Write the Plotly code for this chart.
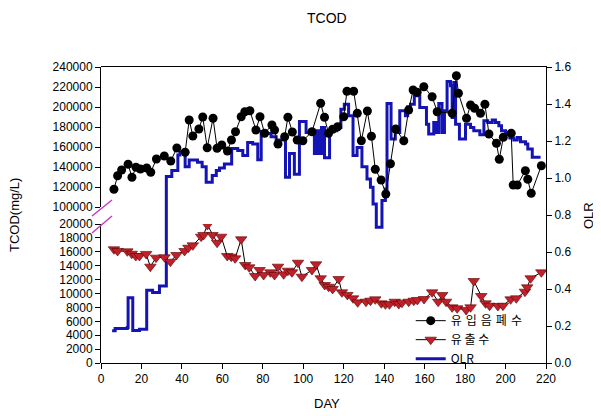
import plotly.graph_objects as go

# influent (top, left broken axis 100000-240000)
IN_DAY = [6.4, 8.2, 10.2, 13.4, 15.3, 17.3, 19.5, 22.6, 24.6, 27.4, 31.3, 34.5, 37.5,
          41.6, 43.6, 45.4, 48.4, 50.3, 52.5, 55.4, 57.4, 59.7, 62.5, 64.5, 66.5, 69.3,
          71.1, 73.6, 76.6, 78.6, 80.9, 84.5, 85.8, 87.5, 90.8, 92.4, 94.6, 97.0, 99.8,
          104.3, 108.6, 110.5, 112.5, 114.5, 117.0, 120.0, 121.6, 124.9, 126.7, 128.7,
          131.7, 133.7, 135.6, 138.5, 140.8, 143.1, 145.7, 149.7, 152.1, 154.3, 156.3,
          159.6, 163.7, 166.2, 173.6, 175.7, 176.7, 180.7, 182.7, 184.7, 187.6, 189.8,
          191.8, 195.5, 196.9, 198.9, 202.8, 203.8, 205.8, 209.8, 211.0, 212.7, 217.7]
IN_TCOD = [117700, 131300, 137000, 142700, 129700, 139700, 138000, 139000, 134700, 148000,
           151000, 146000, 159000, 154700, 187000, 171000, 178000, 190000, 159300, 188700,
           158700, 162000, 156000, 167000, 175300, 190300, 195300, 196300, 177000, 190300,
           173700, 182000, 177000, 163000, 170300, 189700, 175000, 167000, 166300, 175300,
           203700, 189700, 173700, 177700, 180300, 190300, 215700, 215700, 193700, 166300,
           196000, 170700, 137700, 127000, 113000, 143300, 178000, 166300, 197000, 217000,
           214700, 220300, 210300, 195300, 193700, 231300, 213700, 188700, 202000, 198700,
           193700, 202700, 173000, 163700, 147700, 169700, 173700, 122000, 122000, 136300,
           127700, 113700, 141300]

# effluent (bottom, left axis 0-20000)
EF_DAY = [6.4, 8.2, 13.0, 15.2, 17.2, 19.0, 22.3, 24.4, 27.2, 31.4, 34.3, 37.3, 41.3, 43.2,
          45.4, 49.5, 50.7, 52.6, 55.1, 57.4, 59.4, 62.4, 64.4, 66.3, 69.3, 71.3, 73.3,
          76.2, 78.4, 80.4, 83.7, 85.8, 87.5, 90.3, 92.4, 94.4, 97.4, 99.3, 104.3, 106.3,
          108.6, 110.6, 112.5, 114.5, 117.5, 119.1, 121.8, 124.6, 126.9, 131.0, 133.2,
          135.6, 138.6, 140.6, 142.6, 145.2, 147.2, 148.8, 152.1, 154.6, 156.4, 159.7,
          163.7, 166.7, 168.7, 170.6, 173.6, 176.1, 180.5, 182.7, 184.3, 188.0, 190.1,
          192.1, 196.2, 198.7, 202.5, 205.3, 209.6, 210.7, 212.4, 217.7]
EF_TCOD = [16360, 16120, 16070, 15730, 15400, 15400, 15690, 13860, 15160, 15210, 14580,
           15540, 16120, 16590, 16930, 18180, 18420, 19860, 18420, 17310, 18180, 15400,
           15300, 15060, 17800, 14100, 13770, 12520, 13380, 12660, 13050, 12660, 13860,
           12760, 13280, 13050, 14430, 12420, 13380, 14200, 12190, 11220, 10980, 10650,
           12090, 10170, 9790, 9310, 8730, 8820, 8970, 9160, 8590, 8440, 8440, 8820, 8490,
           8680, 8820, 8970, 9070, 9210, 10170, 8820, 9790, 8820, 8010, 7870, 7630, 8010,
           11800, 9640, 8590, 8250, 8200, 8250, 9160, 9310, 10260, 10890, 12190, 13050]

# OLR step levels (start day of each step)
OLR_DAY = [5.5, 7.0, 13.0, 13.4, 15.7, 19.0, 22.6, 25.5, 28.9, 32.3, 35.0, 38.0, 39.0,
           41.6, 43.6, 47.7, 50.0, 52.0, 55.0, 57.0, 58.6, 61.0, 64.6, 67.6, 70.1, 72.5,
           75.0, 77.5, 79.2, 81.6, 84.1, 86.6, 91.2, 93.2, 95.6, 98.1, 101.4, 103.0, 105.5,
           106.3, 107.6, 109.0, 110.5, 113.0, 116.6, 118.6, 120.3, 122.4, 124.6, 126.6,
           129.0, 131.5, 133.2, 134.5, 136.1, 138.9, 140.6, 141.4, 143.4, 145.5, 147.7,
           150.5, 151.6, 153.0, 154.9, 157.6, 160.9, 162.0, 164.5, 165.8, 167.0, 168.6,
           169.8, 171.1, 172.8, 173.6, 174.4, 175.3, 177.2, 180.2, 182.7, 184.3, 187.3,
           189.3, 191.2, 193.4, 195.0, 196.7, 198.0, 200.0, 202.1, 204.1, 205.8, 207.4,
           209.9, 211.0, 213.2, 217.3]
OLR = [0.175, 0.187, 0.192, 0.353, 0.176, 0.183, 0.393, 0.381, 0.416, 1.008, 1.040, 1.125,
       1.139, 1.061, 1.097, 1.085, 1.061, 0.977, 1.013, 1.040, 1.054, 1.076, 1.160, 1.148,
       1.121, 1.192, 1.184, 1.099, 1.252, 1.241, 1.223, 1.205, 1.004, 1.133, 1.020, 1.306,
       1.246, 1.241, 1.133, 1.255, 1.133, 1.273, 1.110, 1.255, 1.273, 1.372, 1.399, 1.336,
       1.121, 1.165, 1.061, 0.995, 0.950, 0.860, 0.734, 0.878, 0.941, 1.403, 1.211, 1.246,
       1.363, 1.336, 1.385, 1.399, 1.444, 1.381, 1.291, 1.238, 1.300, 1.246, 1.403, 1.246,
       1.363, 1.521, 1.498, 1.327, 1.516, 1.291, 1.211, 1.291, 1.273, 1.255, 1.234, 1.309,
       1.300, 1.313, 1.300, 1.282, 1.255, 1.238, 1.216, 1.205, 1.219, 1.196, 1.184, 1.157,
       1.112, 1.112]

FONT = "Liberation Sans, Arial, Noto Sans CJK KR, sans-serif"
KFONT = "Noto Sans CJK KR, Liberation Sans, sans-serif"
SP = "\u2004"  # wider gap between the hangul letters, like the original legend

fig = go.Figure()

fig.add_trace(go.Scatter(
    x=OLR_DAY, y=OLR, mode="lines", name="OLR", legendrank=3,
    line=dict(color="#1414B4", width=3, shape="hv"),
    xaxis="x", yaxis="y",
))
fig.add_trace(go.Scatter(
    x=EF_DAY, y=EF_TCOD, mode="lines+markers", name="유 출 수", legendrank=2,
    line=dict(color="black", width=1),
    marker=dict(symbol="triangle-down", size=10, color="#C0202A",
                line=dict(color="#5A0000", width=0.6)),
    xaxis="x", yaxis="y2",
))
fig.add_trace(go.Scatter(
    x=IN_DAY, y=IN_TCOD, mode="lines+markers", name=SP.join("유입음폐수"), legendrank=1,
    line=dict(color="black", width=1),
    marker=dict(symbol="circle", size=9, color="black"),
    xaxis="x", yaxis="y3",
))

axis_common = dict(
    showline=True, linecolor="black", linewidth=1,
    ticks="outside", ticklen=5, tickwidth=1, tickcolor="black",
    showgrid=False, zeroline=False,
    tickfont=dict(family=FONT, size=12, color="black"),
)

lower_top = 139 / 296
upper_bot = 156 / 296

# the page body adds an 8px offset, so the figure is 8px smaller than the window
fig.update_layout(
    width=593, height=408,
    margin=dict(l=93, r=55, t=59, b=53, autoexpand=False),
    paper_bgcolor="white", plot_bgcolor="rgba(0,0,0,0)",
    showlegend=True,
    legend=dict(x=0.696, y=0.192, xanchor="left", yanchor="top",
                bgcolor="rgba(0,0,0,0)", tracegroupgap=0,
                font=dict(family=KFONT, size=12, color="black")),
    xaxis=dict(range=[0, 220], dtick=20, anchor="y", mirror=True, **axis_common),
    yaxis=dict(range=[0, 1.6], dtick=0.2, tickformat=".1f", side="right",
               domain=[0, 1], anchor="x", **axis_common),
    yaxis2=dict(range=[0, 20000], dtick=2000, tickformat="d", side="left",
                domain=[0, lower_top], anchor="x", **axis_common),
    yaxis3=dict(range=[100000, 240000], dtick=20000, tickformat="d", side="left",
                domain=[upper_bot, 1], anchor="x", **axis_common),
)

# axis titles and chart title
labels = [
    ("TCOD", 0.508, 1.166, 0, 14),
    ("DAY", 0.508, -0.1385, 0, 13),
    ("TCOD(mg/L)", -0.1955, 0.5, -90, 13),
    ("OLR", 1.097, 0.497, -90, 13),
]
for text, x, y, angle, size in labels:
    fig.add_annotation(text=text, x=x, y=y, xref="paper", yref="paper",
                       xanchor="center", yanchor="middle", textangle=angle,
                       showarrow=False, font=dict(family=FONT, size=size, color="black"))

# axis break marks
for y0, y1 in [(0.4966, 0.5507), (0.4392, 0.4966)]:
    fig.add_shape(type="line", xref="paper", yref="paper",
                  x0=-0.0202, y0=y0, x1=0.0247, y1=y1,
                  line=dict(color="#C43CC4", width=1.5))

fig.write_html("out.html")
